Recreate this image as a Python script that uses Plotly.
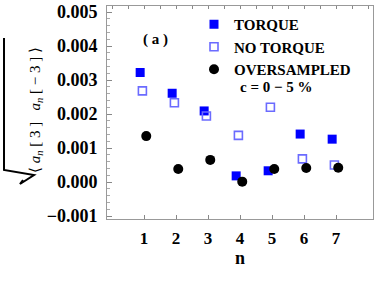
import plotly.graph_objects as go

n = [1, 2, 3, 4, 5, 6, 7]
torque = [0.00322, 0.00261, 0.00209, 0.00018, 0.00033, 0.00141, 0.00126]
no_torque = [0.00268, 0.00233, 0.00194, 0.00137, 0.00220, 0.00068, 0.00050]
oversampled = [0.00135, 0.00038, 0.00065, 0.00001, 0.00038, 0.00041, 0.00042]
y_ticks = [-0.001, 0.0, 0.001, 0.002, 0.003, 0.004, 0.005]
y_tick_labels = ["\u22120.001", "0.000", "0.001", "0.002", "0.003", "0.004", "0.005"]

W, H = 374, 281
L, R, T, B = 107, 373, 6, 219
FONT = "Liberation Serif"


def px(xw):
    return (xw - L) / (R - L)


def py(yw):
    return (B - yw) / (B - T)


fig = go.Figure()
fig.add_trace(go.Scatter(
    x=[v - 0.12 for v in n], y=torque, mode="markers", name="TORQUE",
    marker=dict(symbol="square", size=9, color="#0000ff", line=dict(width=0))))
fig.add_trace(go.Scatter(
    x=[v - 0.05 for v in n], y=no_torque, mode="markers", name="NO TORQUE",
    marker=dict(symbol="square-open", size=8, color="#6b6bff", line=dict(width=1.6))))
fig.add_trace(go.Scatter(
    x=[v + 0.07 for v in n], y=oversampled, mode="markers", name="OVERSAMPLED",
    marker=dict(symbol="circle", size=10, color="black", line=dict(width=0))))
# top axis carrying the half-unit ticks
fig.add_trace(go.Scatter(x=[None], y=[None], xaxis="x2", showlegend=False, hoverinfo="skip"))

xr = [1 - (144 - L) / 32, 7 + (R - 336) / 32]
zero_px, per = 182, 34 / 0.001
yr = [-(B - zero_px) / per, (zero_px - T) / per]

fig.update_layout(
    width=W, height=H,
    margin=dict(l=L, r=W - R, t=T, b=H - B, autoexpand=False),
    paper_bgcolor="white", plot_bgcolor="white",
    showlegend=True,
    legend=dict(x=px(194), y=py(8), xanchor="left", yanchor="top",
                font=dict(family=FONT, size=15, color="black", weight="bold"),
                bgcolor="rgba(0,0,0,0)", tracegroupgap=0, itemwidth=30),
    xaxis=dict(range=xr, tickmode="array", tickvals=n, ticktext=[str(v) for v in n],
               ticks="inside", ticklen=4, tickcolor="#888", showgrid=False, zeroline=False,
               showline=True, linecolor="#999", linewidth=1, mirror=True,
               ticklabelstandoff=4, automargin=False,
               tickfont=dict(family=FONT, size=17, color="black", weight="bold")),
    xaxis2=dict(range=xr, overlaying="x", side="top", dtick=0.5, tick0=0,
                ticks="inside", ticklen=3, tickcolor="#888", showticklabels=False,
                showgrid=False, zeroline=False, showline=False, automargin=False),
    yaxis=dict(range=yr, tickmode="array", tickvals=y_ticks, ticktext=y_tick_labels,
               ticks="inside", ticklen=5, tickcolor="#888", showgrid=False, zeroline=False,
               showline=True, linecolor="#999", linewidth=1, mirror=True,
               ticklabelstandoff=5, automargin=False, ticklabeloverflow="allow",
               minor=dict(dtick=0.0002, ticks="inside", ticklen=3, tickcolor="#aaa"),
               tickfont=dict(family=FONT, size=18, color="black", weight="bold")),
)

fig.add_annotation(text="<b>n</b>", xref="paper", yref="paper", x=px(240), y=py(270),
                   showarrow=False, font=dict(family=FONT, size=18, color="black"))
fig.add_annotation(text="<b>( a )</b>", xref="paper", yref="paper", x=px(141), y=py(29),
                   showarrow=False, font=dict(family=FONT, size=15, color="black"))
fig.add_annotation(text="<b>c = 0 \u2212 5 %</b>", xref="paper", yref="paper", x=px(276), y=py(87),
                   showarrow=False, font=dict(family=FONT, size=15, color="black"))
fig.add_annotation(
    text="\u27e8 <i>a</i><sub><i>n</i></sub> [ 3 ]   <i>a</i><sub><i>n</i></sub> [ \u2212 3 ] \u27e9",
    xref="paper", yref="paper", x=px(25), y=py(110), textangle=-90,
    showarrow=False, font=dict(family=FONT, size=15, color="black"))

path = "M {:.4f},{:.4f} L {:.4f},{:.4f} L {:.4f},{:.4f} L {:.4f},{:.4f} L {:.4f},{:.4f}".format(
    px(4), py(38), px(4), py(170), px(34), py(175), px(20), py(184), px(23), py(180))
fig.add_shape(type="path", path=path, xref="paper", yref="paper",
              line=dict(color="black", width=2))

fig.write_html("out.html", config={"displayModeBar": False},
               post_script="document.body.style.margin='0';document.body.style.overflow='hidden';")
